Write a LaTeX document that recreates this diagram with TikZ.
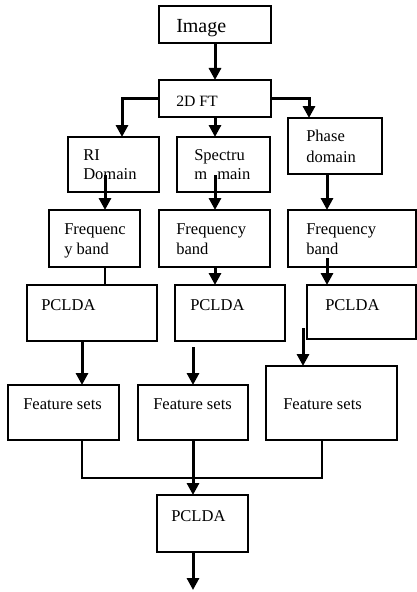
\documentclass[tikz,border=0pt]{standalone}
\usepackage{fontspec}
\setmainfont{Liberation Serif}
\usetikzlibrary{arrows.meta}
\newcommand{\bx}[5]{\node[boxst, minimum width={(#4-#2)*0.75pt}, minimum height={(#5-#3)*0.75pt}] (#1) at ({(#2+#4)/2},{(#3+#5)/2}) {};}
\tikzset{
  boxst/.style={draw, line width=1.5pt, inner sep=0pt, outer sep=0pt, fill=none},
  lbl/.style={anchor=base west, inner sep=0pt, font=\fontsize{12.4}{14}\selectfont},
  arr/.style={line width=2.25pt, -{Triangle[length=9pt,width=9pt]}},
  thin/.style={line width=1.5pt}
}
\begin{document}
\begin{tikzpicture}[x=0.75pt,y=-0.75pt]
\useasboundingbox (0,0) rectangle (417,592);
% boxes
\bx{img}{159}{6}{271}{43}
\bx{fft}{159}{80}{271}{117}
\bx{ri}{68}{137}{159}{192}
\bx{sp}{177}{137}{270}{192}
\bx{ph}{288}{118}{382}{174}
\bx{fa}{49}{210}{140}{267}
\bx{fb}{159}{210}{270}{267}
\bx{fc}{288}{210}{416}{267}
\bx{pa}{27}{285}{157}{341}
\bx{pb}{175}{285}{285}{341}
\bx{pc}{307}{285}{416}{339}
\bx{sa}{8}{385}{119}{440}
\bx{sb}{138}{385}{248}{440}
\bx{sc}{266}{366}{397}{440}
\bx{pf}{157}{495}{248}{552}
% texts
\node[lbl, font=\fontsize{15}{17}\selectfont] (timg) at (176,33) {Image};
\node[lbl, font=\fontsize{11.8}{14}\selectfont] (tfft) at (176,106) {2D FT};
\node[lbl] (tri1) at (83,160) {RI};
\node[lbl] (tri2) at (83,179) {Domain};
\node[lbl] (tsp1) at (194,160) {Spectru};
\node[lbl] (tsp2) at (194,179) {m};
\node[lbl] (tsp3) at (217,179) {main};
\node[lbl] (tph1) at (306,141) {Phase};
\node[lbl] (tph2) at (306,162) {domain};
\node[lbl] (tfa1) at (64,234) {Frequenc};
\node[lbl] (tfa2) at (64,254) {y band};
\node[lbl] (tfb1) at (176,234) {Frequency};
\node[lbl] (tfb2) at (176,254) {band};
\node[lbl] (tfc1) at (306,234) {Frequency};
\node[lbl] (tfc2) at (306,254) {band};
\node[lbl] (tpa) at (41,310) {PCLDA};
\node[lbl] (tpb) at (190,310) {PCLDA};
\node[lbl] (tpc) at (325,310) {PCLDA};
\node[lbl] (tsa) at (23,409) {Feature sets};
\node[lbl] (tsb) at (153,409) {Feature sets};
\node[lbl] (tsc) at (283,409) {Feature sets};
\node[lbl] (tpf) at (171,521) {PCLDA};
% connector coordinates
\coordinate (cri) at (122,137);
\coordinate (csp) at (215,137);
\coordinate (cph) at (309,118);
\coordinate (ri0) at (105,175);
\coordinate (ri1) at (105,210);
\coordinate (sp0) at (215,175);
\coordinate (sp1) at (215,210);
\coordinate (ph0) at (327,174);
\coordinate (ph1) at (327,210);
\coordinate (fa0) at (105,267);
\coordinate (fa1) at (105,285);
\coordinate (fb0) at (215,267);
\coordinate (fb1) at (215,285);
\coordinate (fc0) at (327,258);
\coordinate (fc1) at (327,285);
\coordinate (pa0) at (82,341);
\coordinate (pa1) at (82,385);
\coordinate (pb0) at (193,347);
\coordinate (pb1) at (193,385);
\coordinate (pc0) at (303,328);
\coordinate (pc1) at (303,366);
\coordinate (sa0) at (82,440);
\coordinate (sc0) at (322,440);
\coordinate (jl) at (82,478);
\coordinate (jr) at (322,478);
\coordinate (sb0) at (193,440);
\coordinate (sb1) at (193,495);
\coordinate (pf0) at (193,552);
\coordinate (out) at (193,590);
% connectors
\draw[arr] (img.south) -- (fft.north);
\draw[arr] (fft.west) -| (cri);
\draw[arr] (fft.south) -- (csp);
\draw[arr] (fft.east) -| (cph);
\draw[arr] (ri0) -- (ri1);
\draw[arr] (sp0) -- (sp1);
\draw[arr] (ph0) -- (ph1);
\draw[thin] (fa0) -- (fa1);
\draw[arr] (fb0) -- (fb1);
\draw[arr] (fc0) -- (fc1);
\draw[arr] (pa0) -- (pa1);
\draw[arr] (pb0) -- (pb1);
\draw[arr] (pc0) -- (pc1);
\draw[thin] (sa0) -- (jl) -- (jr) -- (sc0);
\draw[arr] (sb0) -- (sb1);
\draw[arr] (pf0) -- (out);
\end{tikzpicture}
\end{document}
